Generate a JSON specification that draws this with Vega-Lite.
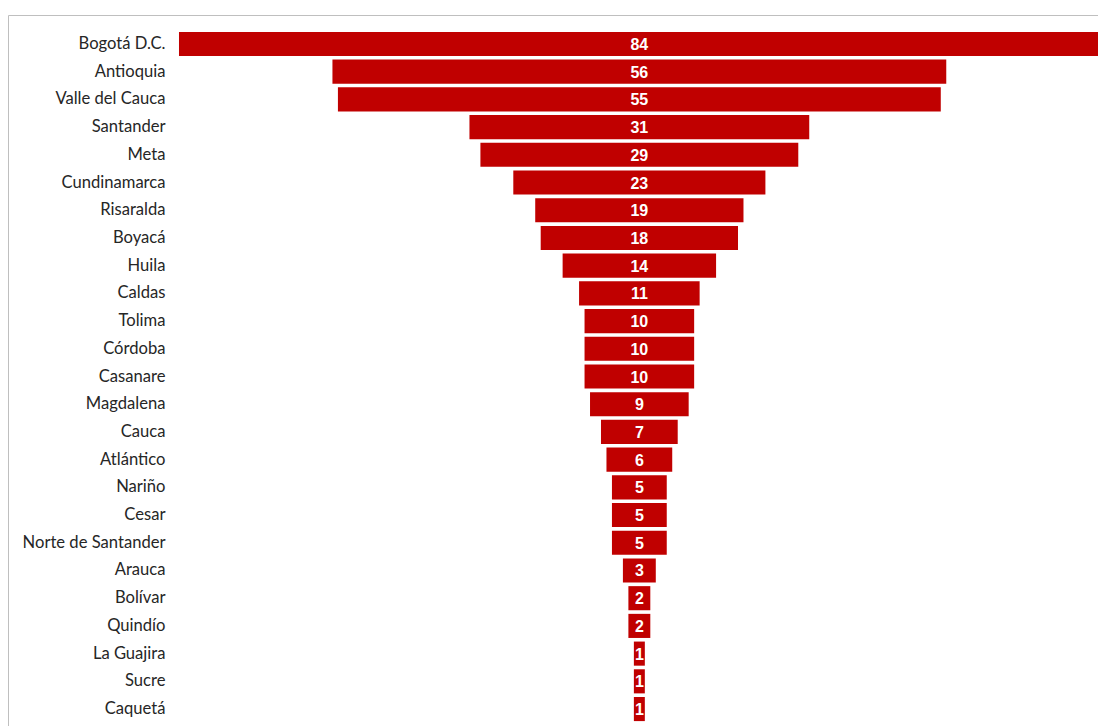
{
  "$schema": "https://vega.github.io/schema/vega-lite/v6.json",
  "width": 1095,
  "height": 723,
  "autosize": {"type": "none"},
  "padding": {"left": 8, "top": 15, "right": 0, "bottom": 0},
  "background": "white",
  "config": {"view": {"stroke": "#bfbfbf", "strokeWidth": 1}},
  "data": {"values": [
    {"dep": "Bogotá D.C.", "n": 84},
    {"dep": "Antioquia", "n": 56},
    {"dep": "Valle del Cauca", "n": 55},
    {"dep": "Santander", "n": 31},
    {"dep": "Meta", "n": 29},
    {"dep": "Cundinamarca", "n": 23},
    {"dep": "Risaralda", "n": 19},
    {"dep": "Boyacá", "n": 18},
    {"dep": "Huila", "n": 14},
    {"dep": "Caldas", "n": 11},
    {"dep": "Tolima", "n": 10},
    {"dep": "Córdoba", "n": 10},
    {"dep": "Casanare", "n": 10},
    {"dep": "Magdalena", "n": 9},
    {"dep": "Cauca", "n": 7},
    {"dep": "Atlántico", "n": 6},
    {"dep": "Nariño", "n": 5},
    {"dep": "Cesar", "n": 5},
    {"dep": "Norte de Santander", "n": 5},
    {"dep": "Arauca", "n": 3},
    {"dep": "Bolívar", "n": 2},
    {"dep": "Quindío", "n": 2},
    {"dep": "La Guajira", "n": 1},
    {"dep": "Sucre", "n": 1},
    {"dep": "Caquetá", "n": 1}
  ]},
  "encoding": {
    "y": {
      "field": "dep", "type": "nominal", "sort": null,
      "scale": {"paddingInner": 0.13, "paddingOuter": 0.61},
      "axis": {
        "title": null, "domain": false, "ticks": false, "grid": false,
        "labelPadding": -157, "labelAlign": "right",
        "labelFont": "Lato", "labelFontSize": 16.6, "labelColor": "#262626"
      }
    }
  },
  "layer": [
    {
      "mark": {"type": "bar", "color": "#C00000"},
      "encoding": {
        "x": {
          "field": "n", "type": "quantitative", "stack": "center",
          "scale": {"domain": [-15.6, 84.3], "nice": false, "zero": false},
          "axis": null
        }
      }
    },
    {
      "mark": {"type": "text", "color": "white", "font": "Liberation Sans", "fontWeight": "bold", "fontSize": 16, "align": "center", "baseline": "middle", "dy": 1},
      "encoding": {
        "x": {"datum": 42, "type": "quantitative"},
        "text": {"field": "n", "type": "quantitative"}
      }
    }
  ]
}
